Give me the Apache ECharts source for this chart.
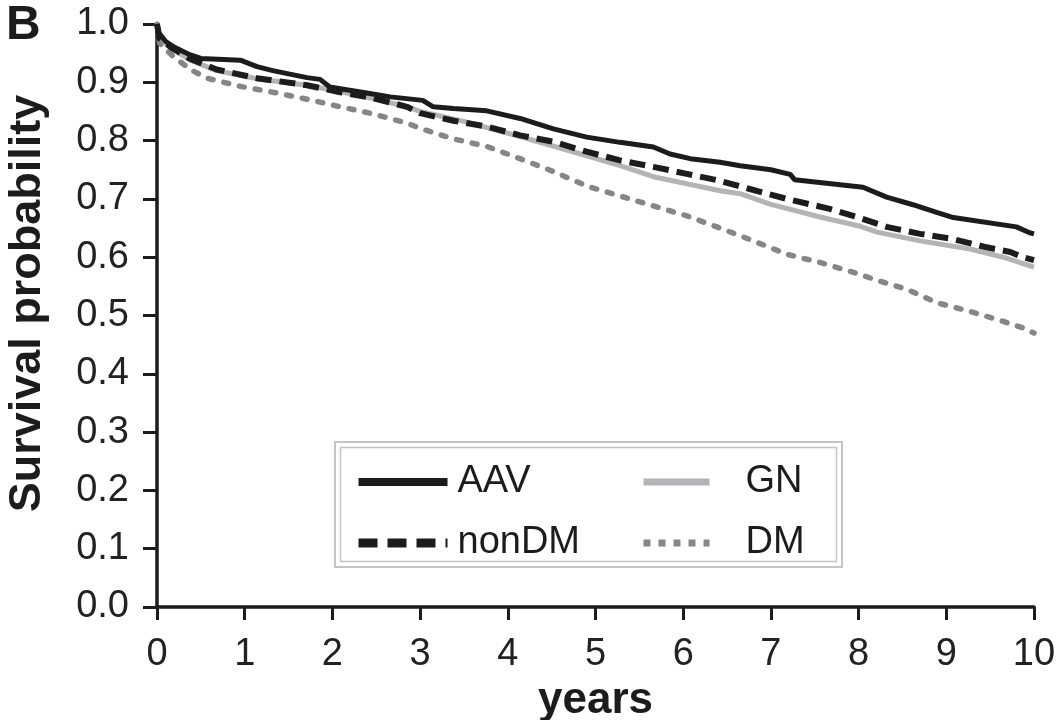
<!DOCTYPE html>
<html>
<head>
<meta charset="utf-8">
<script src="https://cdn.jsdelivr.net/npm/echarts@6/dist/echarts.min.js"></script>
<style>html,body{margin:0;padding:0;background:#fff}#c{width:1056px;height:720px}</style>
</head>
<body>
<div id="c"></div>
<script>
var FONT = 'Liberation Sans, Arial, Helvetica, sans-serif';
var xTicks = [0,1,2,3,4,5,6,7,8,9,10];
var yTicks = [0,0.1,0.2,0.3,0.4,0.5,0.6,0.7,0.8,0.9,1.0];
var seriesNames = ['AAV','nonDM','GN','DM'];

var aav = [[0,1.0],[0.02,0.985],[0.1,0.97],[0.2,0.96],[0.38,0.947],[0.5,0.941],[0.95,0.938],[1.14,0.927],[1.32,0.92],[1.71,0.908],[1.86,0.905],[1.97,0.892],[2.46,0.88],[2.66,0.875],[3.03,0.869],[3.15,0.858],[3.38,0.855],[3.76,0.851],[4.14,0.838],[4.52,0.82],[4.9,0.806],[5.28,0.797],[5.66,0.789],[5.85,0.777],[6.08,0.769],[6.42,0.763],[6.65,0.757],[7.0,0.75],[7.22,0.742],[7.27,0.733],[8.05,0.72],[8.32,0.703],[8.62,0.69],[8.89,0.677],[9.08,0.668],[9.8,0.652],[9.95,0.642],[10,0.64]];
var nonDM = [[0,1.0],[0.03,0.975],[0.18,0.958],[0.38,0.94],[0.68,0.922],[1.14,0.907],[1.71,0.895],[2.09,0.883],[2.46,0.873],[2.85,0.858],[3.0,0.847],[3.38,0.834],[3.76,0.824],[4.14,0.809],[4.52,0.798],[4.9,0.781],[5.28,0.766],[5.66,0.755],[6.04,0.743],[6.42,0.731],[6.76,0.717],[7.18,0.7],[7.67,0.683],[7.98,0.669],[8.32,0.652],[8.7,0.64],[9.08,0.631],[9.46,0.617],[9.73,0.609],[9.87,0.6],[10,0.595]];
var gn = [[0,1.0],[0.03,0.975],[0.18,0.957],[0.38,0.938],[0.68,0.92],[1.14,0.906],[1.71,0.895],[2.09,0.884],[2.46,0.872],[2.85,0.858],[3.0,0.85],[3.5,0.833],[4.14,0.807],[4.9,0.774],[5.28,0.757],[5.66,0.738],[6.04,0.726],[6.42,0.714],[6.65,0.709],[6.99,0.691],[7.56,0.669],[8.02,0.653],[8.21,0.643],[8.7,0.628],[9.27,0.614],[9.65,0.6],[10,0.583]];
var dm = [[0,1.0],[0.03,0.967],[0.18,0.945],[0.38,0.922],[0.57,0.907],[0.95,0.893],[1.32,0.883],[1.71,0.871],[2.09,0.858],[2.46,0.846],[2.85,0.83],[3.0,0.821],[3.38,0.803],[3.76,0.79],[4.14,0.769],[4.52,0.747],[4.9,0.722],[5.28,0.705],[5.66,0.688],[6.04,0.671],[6.42,0.65],[6.8,0.628],[7.18,0.605],[7.56,0.591],[7.94,0.574],[8.24,0.559],[8.55,0.545],[8.89,0.522],[9.27,0.507],[9.65,0.49],[9.87,0.479],[10,0.47]];

var BLACK = '#1c1c1c', LGRAY = '#b4b4b6', DGRAY = '#868686';
var chart = echarts.init(document.getElementById('c'), null, {renderer:'canvas'});
chart.setOption({
  animation: false,
  backgroundColor: '#fff',
  grid: {left: 157, right: 22, top: 24, bottom: 113, containLabel: false, outerBoundsMode: 'none'},
  xAxis: {
    type: 'value', min: xTicks[0], max: xTicks[xTicks.length-1], interval: 1,
    name: 'years', nameLocation: 'middle', nameGap: 70,
    nameTextStyle: {fontFamily: FONT, fontWeight: 'bold', fontSize: 44, color: BLACK},
    axisLine: {lineStyle: {color: BLACK, width: 3.5}},
    axisTick: {inside: false, length: 13, lineStyle: {color: BLACK, width: 3}},
    axisLabel: {fontFamily: FONT, fontSize: 38, color: '#222', margin: 29},
    splitLine: {show: false}
  },
  yAxis: {
    type: 'value', min: yTicks[0], max: yTicks[yTicks.length-1], interval: 0.1,
    name: 'Survival probability', nameLocation: 'middle', nameGap: 107, nameRotate: 90,
    nameTextStyle: {fontFamily: FONT, fontWeight: 'bold', fontSize: 45, color: BLACK, padding: [0,0,0,24]},
    axisLine: {lineStyle: {color: BLACK, width: 3.5}},
    axisTick: {inside: false, length: 14, lineStyle: {color: BLACK, width: 3}},
    axisLabel: {fontFamily: FONT, fontSize: 38, color: '#222', margin: 28, formatter: function(v){return v.toFixed(1);}},
    splitLine: {show: false}
  },
  legend: [
    {orient: 'vertical', left: 354, top: 462, padding: 0, itemWidth: 89, itemHeight: 40, itemGap: 21,
     itemStyle: {opacity: 0},
     data: [
       {name: 'AAV', lineStyle: {width: 8, type: 'solid', cap: 'butt'}},
       {name: 'nonDM', lineStyle: {width: 9, type: [19,10], cap: 'butt'}}
     ],
     textStyle: {fontFamily: FONT, fontSize: 38, color: BLACK, lineHeight: 40, padding: [0,0,0,5]}},
    {orient: 'vertical', left: 640, top: 462, padding: 0, itemWidth: 66, itemHeight: 40, itemGap: 21,
     itemStyle: {opacity: 0},
     data: [
       {name: 'GN', lineStyle: {width: 7, type: 'solid', cap: 'butt'}},
       {name: 'DM', lineStyle: {width: 7, type: [7,8], cap: 'butt'}}
     ],
     textStyle: {fontFamily: FONT, fontSize: 38, color: BLACK, lineHeight: 40, padding: [0,0,0,31]}}
  ],
  graphic: [
    {type: 'text', left: 6, top: 2, style: {text: 'B', fontSize: 48, fontWeight: 'bold', fontFamily: FONT, fill: BLACK}},
    {type: 'rect', shape: {x: 335, y: 442, width: 507, height: 125}, style: {fill: 'none', stroke: '#c4c4c4', lineWidth: 2}, z: 1},
    {type: 'rect', shape: {x: 340.5, y: 447.5, width: 496, height: 114}, style: {fill: 'none', stroke: '#c4c4c4', lineWidth: 1.5}, z: 1}
  ],
  series: [
    {name: 'GN', type: 'line', data: gn, symbol: 'none', z: 2,
     lineStyle: {color: LGRAY, width: 5}, itemStyle: {color: LGRAY}},
    {name: 'DM', type: 'line', data: dm, symbol: 'none', z: 3,
     lineStyle: {color: DGRAY, width: 5.5, type: [5,11], cap: 'round'}, itemStyle: {color: DGRAY}},
    {name: 'nonDM', type: 'line', data: nonDM, symbol: 'none', z: 4,
     lineStyle: {color: BLACK, width: 6, type: [16,8], cap: 'butt'}, itemStyle: {color: BLACK}},
    {name: 'AAV', type: 'line', data: aav, symbol: 'none', z: 5,
     lineStyle: {color: BLACK, width: 5}, itemStyle: {color: BLACK}}
  ]
});
</script>
</body>
</html>
